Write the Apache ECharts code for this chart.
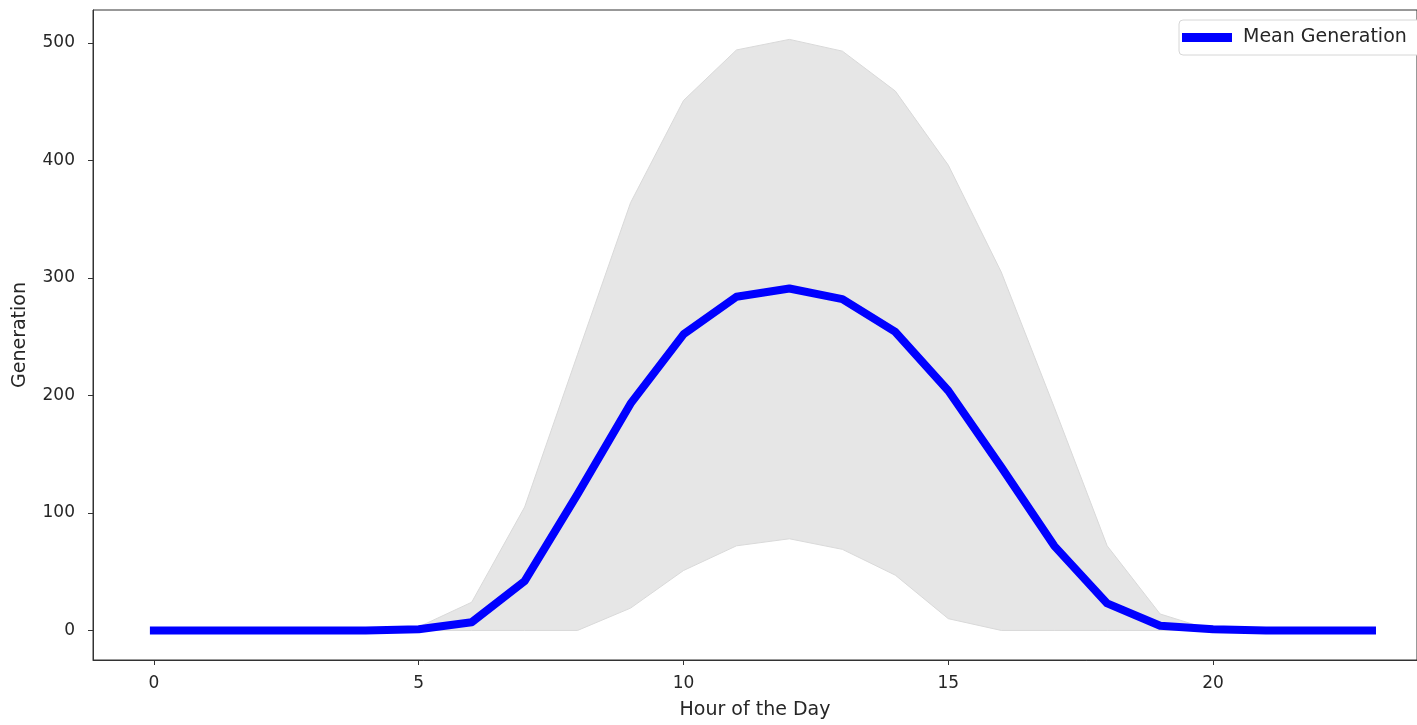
<!DOCTYPE html>
<html>
<head>
<meta charset="utf-8">
<script src="https://cdn.jsdelivr.net/npm/echarts@6/dist/echarts.min.js"></script>
<style>
  html, body { margin: 0; padding: 0; background: #fff; }
  #chart { width: 1417px; height: 725px; }
</style>
</head>
<body>
<div id="chart"></div>
<script>
// hours of the day
const hours = [0, 1, 2, 3, 4, 5, 6, 7, 8, 9, 10, 11, 12, 13, 14, 15, 16, 17, 18, 19, 20, 21, 22, 23];
// mean generation per hour
const meanGen = [0, 0, 0, 0, 0, 1, 7, 42, 116, 193, 252, 284, 291, 282, 254, 204, 139, 72, 23, 4, 1, 0, 0, 0];
// band upper / lower edges
const upperGen = [0, 0, 0, 0, 0, 3, 24, 105, 235, 364, 451, 494, 503, 493, 459, 396, 305, 190, 72, 14, 0, 0, 0, 0];
const lowerGen = [0, 0, 0, 0, 0, 0, 0, 0, 0, 19, 51, 72, 78, 69, 47, 10, 0, 0, 0, 0, 0, 0, 0, 0];
// tick labels
const xTicks = [0, 5, 10, 15, 20];
const yTicks = [0, 100, 200, 300, 400, 500];

const font = "DejaVu Sans";
const ink = "#262626";
const tickFs = 17;
const textFs = 19;

const chart = echarts.init(document.getElementById("chart"));

// band polygon: upper edge forward then lower edge back
const bandData = hours.map((h, i) => [h, upperGen[i], lowerGen[i]]);

chart.setOption({
  animation: false,
  grid: {
    left: 93, right: 0, top: 10, bottom: 63,
    show: true, borderColor: "#333", borderWidth: 1, backgroundColor: "transparent"
  },
  legend: {
    left: 1179, top: 20,
    data: [{ name: "Mean Generation", icon: "rect" }],
    itemWidth: 50, itemHeight: 9,
    backgroundColor: "#fff", borderColor: "#d6d6d6", borderWidth: 1, borderRadius: 4,
    padding: [8, 60, 8, 3],
    textStyle: { fontFamily: font, fontSize: textFs, color: ink, padding: [0, 0, 0, 6] }
  },
  xAxis: {
    type: "value", min: -1.15, max: 23.85,
    name: "Hour of the Day", nameLocation: "middle", nameGap: 41,
    nameTextStyle: { fontFamily: font, fontSize: textFs, color: ink },
    splitLine: { show: false },
    axisLine: { onZero: false, lineStyle: { color: "#333" } },
    axisTick: { customValues: xTicks, length: 5, lineStyle: { color: "#333" } },
    axisLabel: { customValues: xTicks, fontFamily: font, fontSize: tickFs, color: ink, margin: 15 }
  },
  yAxis: {
    type: "value", min: -25.15, max: 528,
    name: "Generation", nameLocation: "middle", nameGap: 63, nameRotate: 90,
    nameTextStyle: { fontFamily: font, fontSize: textFs, color: ink },
    splitLine: { show: false },
    axisLine: { show: true, onZero: false, lineStyle: { color: "#333" } },
    axisTick: { show: true, customValues: yTicks, length: 5, lineStyle: { color: "#333" } },
    axisLabel: { customValues: yTicks, fontFamily: font, fontSize: tickFs, color: ink, margin: 18 }
  },
  series: [
    {
      type: "custom",
      name: "band",
      silent: true,
      data: bandData,
      encode: { x: 0, y: [1, 2] },
      renderItem: function (params, api) {
        if (params.dataIndex !== 0) return null;
        const top = bandData.map(d => api.coord([d[0], d[1]]));
        const bottom = bandData.map(d => api.coord([d[0], d[2]])).reverse();
        return {
          type: "polygon",
          shape: { points: top.concat(bottom) },
          style: { fill: "#e6e6e6", stroke: "#d9d9d9", lineWidth: 1 }
        };
      },
      z: 1
    },
    {
      type: "line",
      name: "Mean Generation",
      data: hours.map((h, i) => [h, meanGen[i]]),
      symbol: "none",
      lineStyle: { color: "#0000ff", width: 8, join: "round", cap: "square" },
      itemStyle: { color: "#0000ff" },
      z: 3
    }
  ]
});
</script>
</body>
</html>
